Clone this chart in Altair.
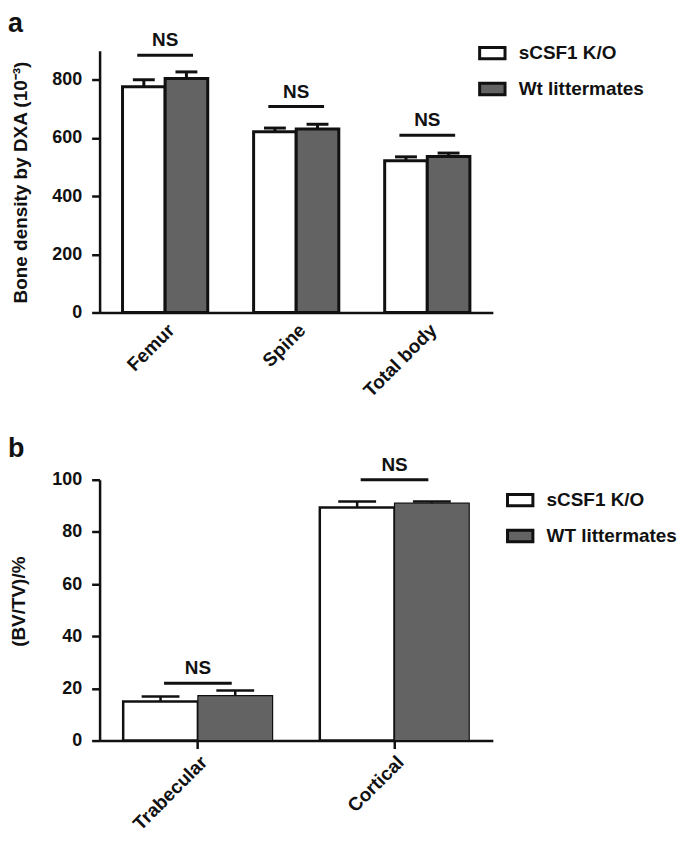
import altair as alt
import pandas as pd

# ---------------- data: panel a ----------------
cats_a = ["Femur", "Spine", "Total body"]
groups_a = ["sCSF1 K/O", "Wt littermates"]
ko_a = [776, 621, 522]
ko_err_a = [24, 13, 13]
wt_a = [804, 631, 536]
wt_err_a = [23, 16, 12]
ns_a = [884, 708, 609]

# ---------------- data: panel b ----------------
cats_b = ["Trabecular", "Cortical"]
groups_b = ["sCSF1 K/O", "WT littermates"]
ko_b = [15.0, 89.4]
ko_err_b = [1.9, 2.3]
wt_b = [17.2, 91.0]
wt_err_b = [2.0, 0.7]
ns_b = [22, 100]

FONT = "Liberation Sans"
INK = "#111111"
HATCH = "#636363"
WIDTH = 395


def panel(cats, groups, ko, ko_err, wt, wt_err, ns, ymax, yticks, ytitle,
          letter, letter_y, pad_inner, cap, sw, wt_sw, xticks, lab_pad,
          leg_x, leg_y, height, ns_len, title_x, title_y):
    rows = []
    for i, c in enumerate(cats):
        rows.append(dict(cat=c, group=groups[0], mean=ko[i], top=ko[i] + ko_err[i]))
        rows.append(dict(cat=c, group=groups[1], mean=wt[i], top=wt[i] + wt_err[i]))
    df = pd.DataFrame(rows)
    nsdf = pd.DataFrame(dict(cat=cats, y=ns, t=["NS"] * len(cats)))

    n = len(cats)
    step = WIDTH / n
    band = step * (1 - pad_inner)
    bw = band / 2.0
    offs = [-bw / 2.0, bw / 2.0]

    xaxis = alt.Axis(title=None, labelAngle=-45, ticks=xticks, tickSize=8,
                     tickWidth=2.5, tickColor=INK, labelPadding=lab_pad,
                     labelFontSize=19, labelFontWeight="bold", labelColor=INK,
                     domainColor=INK, domainWidth=2.5, grid=False)
    xs = alt.Scale(domain=cats, paddingInner=pad_inner, paddingOuter=pad_inner / 2)
    x = alt.X("cat:N", sort=cats, scale=xs, axis=xaxis)

    yaxis = alt.Axis(values=yticks, title=ytitle, grid=False, tickSize=8,
                     tickWidth=2.5, tickColor=INK, domainColor=INK,
                     domainWidth=2.5, labelFontSize=18, labelFontWeight="bold",
                     labelColor=INK, labelPadding=10, titleFontSize=19,
                     titleFontWeight="bold", titleColor=INK, titleX=title_x,
                     titleY=title_y, titleBaseline="middle", titleAngle=-90,
                     titleAlign="center")
    ys = alt.Scale(domain=[0, ymax], nice=False, zero=True)

    fill = alt.Fill("group:N", sort=groups,
                    scale=alt.Scale(domain=groups, range=["white", HATCH]),
                    legend=alt.Legend(
                        title=None, orient="none", legendX=leg_x,
                        legendY=leg_y, direction="vertical",
                        symbolType="M-1,-0.45H1V0.45H-1Z", symbolSize=650,
                        symbolStrokeColor=INK, symbolStrokeWidth=3,
                        labelFontSize=19, labelFontWeight="bold",
                        labelColor=INK, labelLimit=400, rowPadding=9,
                        labelOffset=12, padding=0))

    layers = []
    base = alt.Chart(df)
    for gi, g in enumerate(groups):
        sub = base.transform_filter(alt.datum.group == g)
        stroke_w = sw if gi == 0 else wt_sw
        layers.append(sub.mark_bar(stroke=INK, strokeWidth=stroke_w, width=bw,
                                   xOffset=offs[gi], opacity=1).encode(
            x=x, y=alt.Y("mean:Q", scale=ys, axis=yaxis), fill=fill))
    for gi, g in enumerate(groups):
        sub = base.transform_filter(alt.datum.group == g)
        layers.append(sub.mark_rule(color=INK, strokeWidth=sw, opacity=1,
                                    xOffset=offs[gi]).encode(
            x=x, y=alt.Y("mean:Q", scale=ys, axis=yaxis), y2="top:Q"))
        layers.append(sub.mark_tick(color=INK, thickness=sw, size=cap,
                                    opacity=1, xOffset=offs[gi]).encode(
            x=x, y=alt.Y("top:Q", scale=ys, axis=yaxis)))

    nsb = alt.Chart(nsdf)
    layers.append(nsb.mark_tick(color=INK, thickness=3, size=ns_len,
                                opacity=1).encode(
        x=x, y=alt.Y("y:Q", scale=ys, axis=yaxis)))
    layers.append(nsb.mark_text(dy=-9, fontSize=19, fontWeight="bold",
                                color=INK, baseline="alphabetic").encode(
        x=x, y=alt.Y("y:Q", scale=ys, axis=yaxis), text="t:N"))

    layers.append(alt.Chart(alt.Data(values=[{"t": letter}])).mark_text(
        fontSize=27, fontWeight="bold", color=INK, align="left",
        baseline="top").encode(text="t:N", x=alt.value(-92),
                               y=alt.value(letter_y)))

    return alt.layer(*layers).properties(width=WIDTH, height=height)


pa = panel(cats_a, groups_a, ko_a, ko_err_a, wt_a, wt_err_a, ns_a, 900,
           [0, 200, 400, 600, 800], "Bone density by DXA (10\u207b\u00b3)",
           "a", -40, 0.35, 22, 3, 3, False, 8, 380, -12, 263, 56, -79, 132)
pb = panel(cats_b, groups_b, ko_b, ko_err_b, wt_b, wt_err_b, ns_b, 100,
           [0, 20, 40, 60, 80, 100], "(BV/TV)/%",
           "b", -44, 0.24, 38, 2.5, 1.2, True, 4, 408, 6, 262, 68, -81, 122)

chart = alt.vconcat(pa, pb, spacing=168, bounds="flush").resolve_scale(
    fill="independent", x="independent", y="independent"
).properties(padding=0).configure(font=FONT).configure_view(stroke=None)

chart.save("out.html", embed_options={"renderer": "svg", "actions": False})
